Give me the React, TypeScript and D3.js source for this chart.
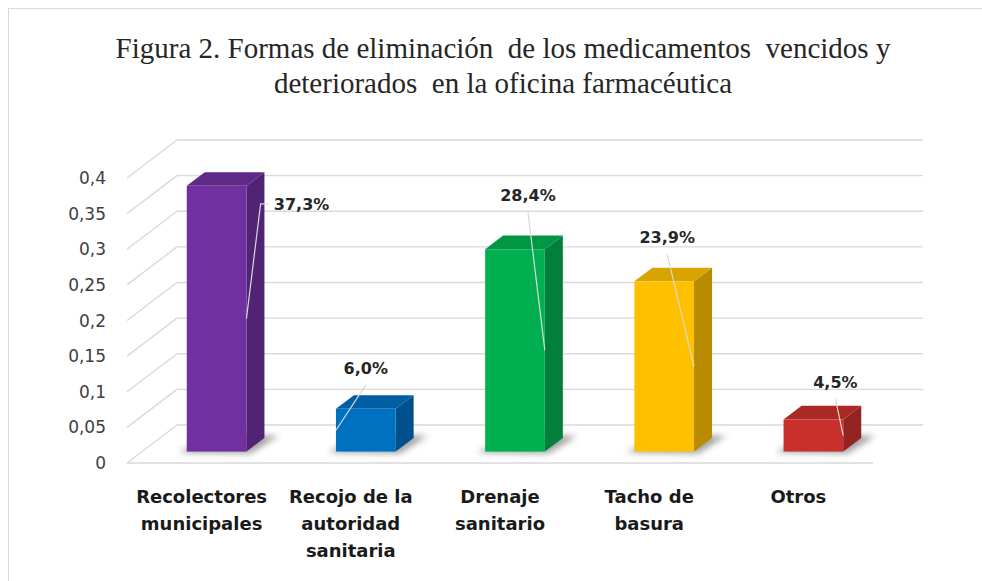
import React from 'react';
import * as d3 from 'd3';

// data
const categories = [
  'Recolectores\nmunicipales',
  'Recojo de la\nautoridad\nsanitaria',
  'Drenaje\nsanitario',
  'Tacho de\nbasura',
  'Otros',
];
const values = [0.373, 0.06, 0.284, 0.239, 0.045];
const barColors = ['#7030A0', '#0070C0', '#00B050', '#FFC000', '#C9302C'];
const yTicks = [0, 0.05, 0.1, 0.15, 0.2, 0.25, 0.3, 0.35, 0.4];
const titleLines = [
  'Figura 2. Formas de eliminación  de los medicamentos  vencidos y',
  'deteriorados  en la oficina farmacéutica',
];

// label placement relative to the top front centre of each bar
const labelOffsets = [[85, 18], [0, -41], [13, -54], [3, -44], [22, -38]];
const leaderToLeft = [false, true, false, false, false];

const W = 982;
const H = 581;
const DX = 50; // depth of the plot box, in px
const DY = 38;
const T_FRONT = 0.3; // where the bars sit in the depth
const T_BACK = 0.66;

const locale = d3.formatLocale({ decimal: ',', thousands: '.', grouping: [3], currency: ['', '€'] });
const fmtTick = locale.format('.2~f');
const fmtPct = locale.format('.1%');

export default function App() {
  const x = d3.scaleBand<string>()
    .domain(categories)
    .range([127, 873])
    .paddingInner(0.6)
    .paddingOuter(0.3);
  const y = d3.scaleLinear().domain([0, 0.4]).range([463, 178]);

  const bw = x.bandwidth();
  const fx = T_FRONT * DX, fy = T_FRONT * DY;
  const bx = T_BACK * DX, by = T_BACK * DY;

  return (
    <svg width={W} height={H} style={{ position: 'absolute', left: 0, top: 0, background: '#fff' }}
      fontFamily="'DejaVu Sans', sans-serif">
      <defs>
        <filter id="blur" x="-50%" y="-50%" width="200%" height="200%">
          <feGaussianBlur stdDeviation="3" />
        </filter>
      </defs>
      <rect x={8.5} y={8.5} width={1000} height={600} fill="#fff" stroke="#d9d9d9" />

      {titleLines.map((t, i) => (
        <text key={i} x={503} y={58 + i * 35} textAnchor="middle" fontFamily="'Liberation Serif', serif"
          fontSize={29} fill="#262626" style={{ whiteSpace: 'pre' }}>{t}</text>
      ))}

      {/* back wall and side wall gridlines */}
      {yTicks.map(t => (
        <g key={t} stroke="#d9d9d9" strokeWidth={1.3} fill="none">
          <line x1={127 + DX} x2={873 + DX} y1={y(t) - DY} y2={y(t) - DY} />
          <line x1={127} x2={127 + DX} y1={y(t)} y2={y(t) - DY} />
        </g>
      ))}
      <line x1={127} x2={873} y1={y(0)} y2={y(0)} stroke="#d9d9d9" strokeWidth={1.3} />

      {yTicks.map(t => (
        <text key={t} x={106} y={y(t) + 6} textAnchor="end" fontSize={17} fill="#404040">{fmtTick(t)}</text>
      ))}

      {/* shadows */}
      {categories.map((c, i) => {
        const x0 = x(c)!;
        const p = [
          [x0 + fx - 8, y(0) - fy + 1],
          [x0 + bw + fx + 4, y(0) - fy + 2],
          [x0 + bw + bx + 14, y(0) - by - 2],
          [x0 + bx + 10, y(0) - by - 4],
        ];
        return <polygon key={i} points={p.map(d => d.join(',')).join(' ')} fill="#666" opacity={0.6} filter="url(#blur)" />;
      })}

      {/* bars */}
      {categories.map((c, i) => {
        const v = values[i];
        const x0 = x(c)!;
        const col = d3.color(barColors[i])!;
        const yT = y(v), y0 = y(0);
        const front = { x0: x0 + fx, x1: x0 + bw + fx, yT: yT - fy, yB: y0 - fy };
        const back = { x0: x0 + bx, x1: x0 + bw + bx, yT: yT - by, yB: y0 - by };
        const side = [[front.x1, front.yT], [back.x1, back.yT], [back.x1, back.yB], [front.x1, front.yB]];
        const top = [[front.x0, front.yT], [front.x1, front.yT], [back.x1, back.yT], [back.x0, back.yT]];
        return (
          <g key={i}>
            <polygon points={side.map(d => d.join(',')).join(' ')} fill={col.darker(0.9).toString()} />
            <polygon points={top.map(d => d.join(',')).join(' ')} fill={col.darker(0.45).toString()} />
            <rect x={front.x0} y={front.yT} width={bw} height={front.yB - front.yT} fill={barColors[i]} />
          </g>
        );
      })}

      {/* data labels with leader lines */}
      {categories.map((c, i) => {
        const v = values[i];
        const x0 = x(c)!;
        const cx = x0 + fx + bw / 2;
        const yT = y(v) - fy;
        const lx = cx + labelOffsets[i][0];
        const ly = yT + labelOffsets[i][1];
        const ex = leaderToLeft[i] ? x0 + fx : x0 + fx + bw;
        const ey = (yT + y(0) - fy) / 2;
        const path = i === 0
          ? `M${lx - 33},${ly} L${lx - 41},${ly} L${ex},${ey}`
          : `M${lx},${ly + 17} L${ex},${ey}`;
        return (
          <g key={i}>
            <path d={path} stroke="#d9d9d9" strokeWidth={1.2} fill="none" />
            <text x={lx} y={ly + 6} textAnchor="middle" fontSize={16} fontWeight="bold" fill="#262626">
              {fmtPct(v)}
            </text>
          </g>
        );
      })}

      {/* category labels */}
      {categories.map(c => {
        const cx = x(c)! + bw / 2;
        return (
          <text key={c} x={cx} y={503} textAnchor="middle" fontSize={18} fontWeight="bold" fill="#1a1a1a">
            {c.split('\n').map((l, j) => (
              <tspan key={j} x={cx} dy={j === 0 ? 0 : 27}>{l}</tspan>
            ))}
          </text>
        );
      })}
    </svg>
  );
}
